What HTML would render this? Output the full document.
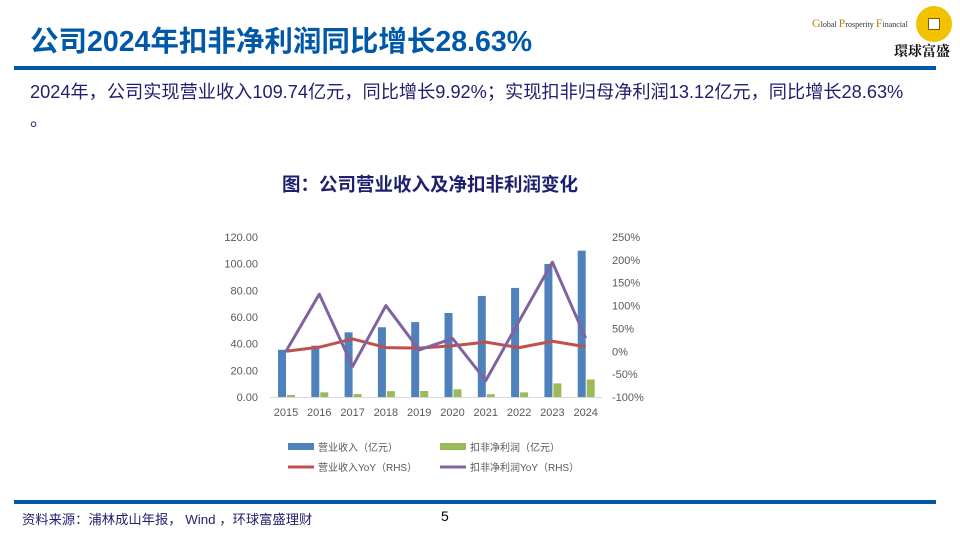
<!DOCTYPE html>
<html><head><meta charset="utf-8"><style>
body{margin:0;width:960px;height:540px;background:#fff;position:relative;overflow:hidden;font-family:"Liberation Sans","Noto Sans CJK SC",sans-serif}
.abs{position:absolute}
</style></head><body>
<div class="abs" style="left:30px;top:19px;font-size:28.5px;font-weight:bold;color:#0058a8;white-space:nowrap">公司2024年扣非净利润同比增长28.63%</div>
<div class="abs" style="left:808px;top:4px;width:152px;height:56px">
 <div class="abs" style="left:4px;top:12px;font-family:'Liberation Serif',serif;font-size:8px;color:#333;white-space:nowrap"><span style="color:#b8860b;font-size:12px">G</span>lobal <span style="color:#b8860b;font-size:12px">P</span>rosperity <span style="color:#b8860b;font-size:12px">F</span>inancial</div>
 <div class="abs" style="left:108px;top:2px;width:36px;height:36px;border-radius:50%;background:#f2c200"><div class="abs" style="left:12px;top:12px;width:10px;height:10px;background:#fff;border:1px solid #8a5a00"></div></div>
 <div class="abs" style="left:86px;top:37px;font-size:14px;font-weight:bold;color:#111;font-family:'Liberation Serif','Noto Serif CJK SC',serif">環球富盛</div>
</div>
<div class="abs" style="left:14px;top:66px;width:922px;height:4px;background:#0058a8"></div>
<div class="abs" style="left:30px;top:78px;font-size:18.2px;color:#1f1f6e;line-height:28px;white-space:nowrap">2024年，公司实现营业收入109.74亿元，同比增长9.92%；实现扣非归母净利润13.12亿元，同比增长28.63%<br>。</div>
<div class="abs" style="left:0;width:860px;text-align:center;top:171px;font-size:18.5px;font-weight:bold;color:#1f1f6e">图：公司营业收入及净扣非利润变化</div>
<svg class="abs" style="left:0;top:0" width="960" height="540" id="chart"></svg>
<div class="abs" style="left:14px;top:500px;width:922px;height:4px;background:#0058a8"></div>
<div class="abs" style="left:22px;top:509px;font-size:13.3px;color:#1f1f6e;white-space:nowrap">资料来源：浦林成山年报， Wind ，环球富盛理财</div>
<div class="abs" style="left:441px;top:508px;font-size:14px;color:#000">5</div>
<script>
const years=["2015","2016","2017","2018","2019","2020","2021","2022","2023","2024"];
const revenue=[35.4,38.5,48.5,52.3,56.2,63.0,75.8,81.8,99.8,109.74];
const profit=[1.5,3.5,2.2,4.4,4.5,5.8,2.1,3.5,10.2,13.12];
const revYoY=[0,9,27,8,7,12,20,8,22,9.92];
const profYoY=[0,125,-33,100,3,28,-64,66,195,28.63];
const leftTicks=[0,20,40,60,80,100,120];
const rightTicks=[-100,-50,0,50,100,150,200,250];
const NS="http://www.w3.org/2000/svg";
const svg=document.getElementById('chart');
const yL=v=>397-v*(160/120);
const yR=v=>397-(v+100)*(160/350);
const xC=i=>286+i*33.3;
function mk(t,a){const e=document.createElementNS(NS,t);for(const k in a)e.setAttribute(k,a[k]);svg.appendChild(e);return e;}
let ax=mk('line',{x1:270,x2:602,y1:397.5,y2:397.5,stroke:'#d9d9d9'});


leftTicks.forEach(v=>{const t=mk('text',{x:258,y:yL(v)+4,'text-anchor':'end','font-size':'11','fill':'#595959'});t.textContent=v.toFixed(2);

});
rightTicks.forEach(v=>{const t=mk('text',{x:612,y:yR(v)+4,'font-size':'11','fill':'#595959'});t.textContent=v+'%';

});
years.forEach((y,i)=>{const t=mk('text',{x:xC(i),y:416,'text-anchor':'middle','font-size':'11','fill':'#595959'});t.textContent=y;

});
revenue.forEach((v,i)=>{const r=mk('rect',{x:xC(i)-8,y:yL(v),width:8,height:yL(0)-yL(v),fill:'#4f81bd'});

});
profit.forEach((v,i)=>{const r=mk('rect',{x:xC(i)+1,y:yL(v),width:8,height:yL(0)-yL(v),fill:'#9bbb59'});

});
function line(arr,c,n){const p=mk('polyline',{points:arr.map((v,i)=>xC(i)+','+yR(v)).join(' '),fill:'none',stroke:c,'stroke-width':3,'stroke-linejoin':'round'});

}
line(revYoY,'#c0504d','revenue-yoy-line');
line(profYoY,'#8064a2','profit-yoy-line');
const leg=[['rect','#4f81bd','营业收入（亿元）',288,447],['rect','#9bbb59','扣非净利润（亿元）',440,447],['line','#c0504d','营业收入YoY（RHS）',288,467],['line','#8064a2','扣非净利润YoY（RHS）',440,467]];
leg.forEach(l=>{
 if(l[0]=='rect')mk('rect',{x:l[3],y:l[4]-4,width:26,height:7,fill:l[1]});
 else mk('line',{x1:l[3],x2:l[3]+26,y1:l[4],y2:l[4],stroke:l[1],'stroke-width':3});
 const t=mk('text',{x:l[3]+30,y:l[4]+4,'font-size':'10','fill':'#595959'});t.textContent=l[2];
 
 
});
</script>
</body></html>
